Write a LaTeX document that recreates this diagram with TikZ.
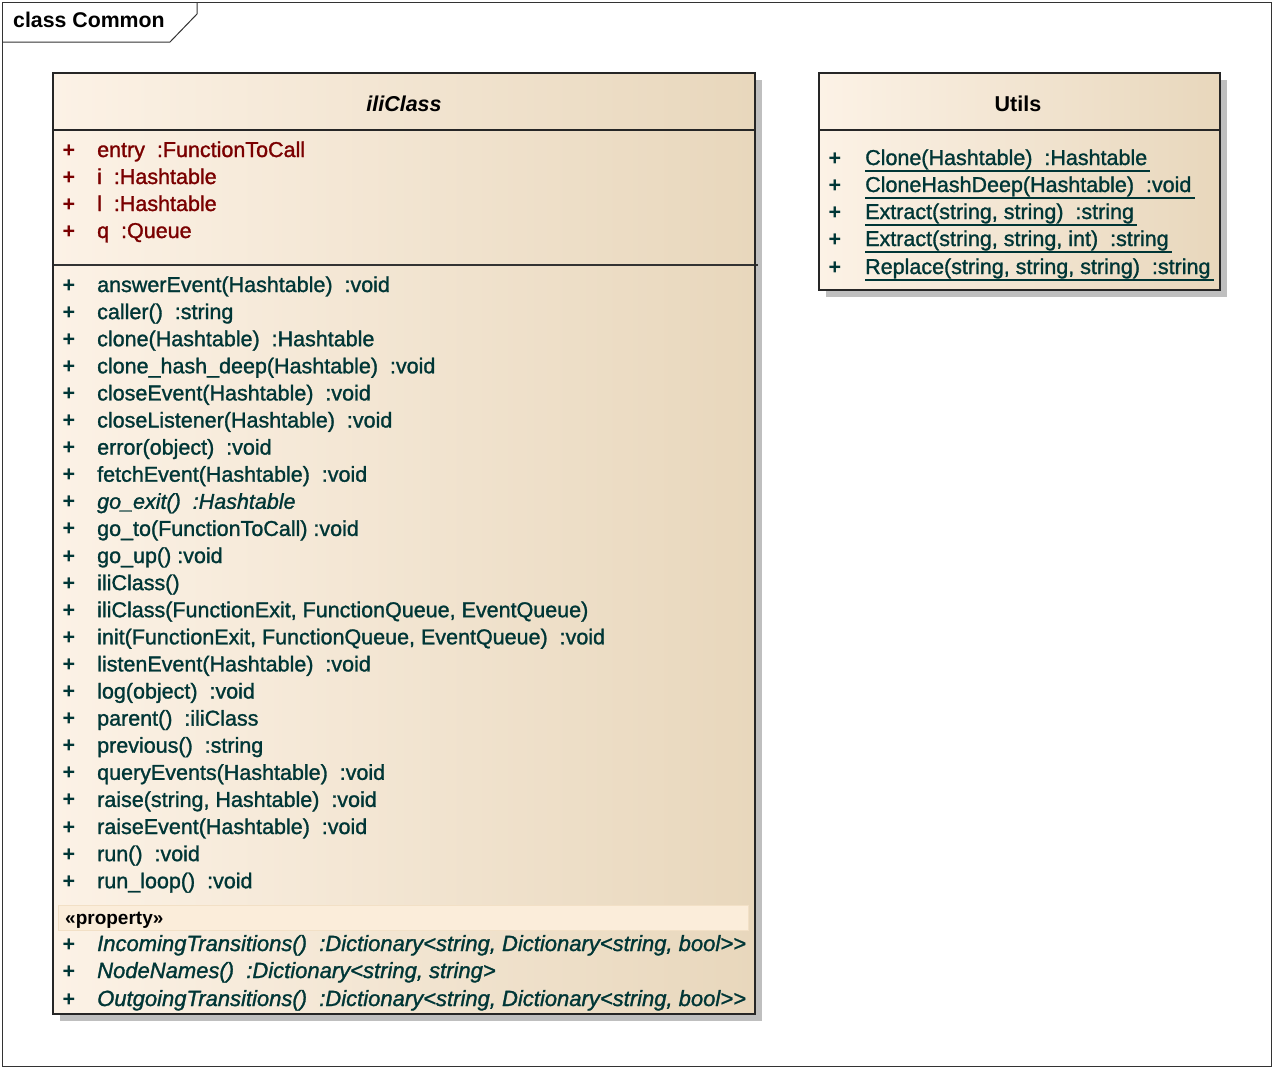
\documentclass[tikz,border=0pt]{standalone}
\usepackage{fontspec}
\setmainfont{Liberation Sans}
\newfontfamily\heavy[FakeBold=1.3]{Liberation Sans}
\begin{document}
\begin{tikzpicture}[x=1pt,y=-1pt,
  txt/.style={inner sep=0pt,anchor=base west,font=\heavy\fontsize{21.5}{25}\selectfont,text depth=6pt},
  attr/.style={txt,text=attrcol},
  meth/.style={txt,text=methcol},
  plus/.style={inner sep=0pt,anchor=base,font=\fontsize{21.5}{25}\selectfont\bfseries},
  boxline/.style={line width=1.5pt,draw=black!85},
  shadowc/.style={fill=black!25,draw=none}]
\definecolor{attrcol}{HTML}{7A0000}
\definecolor{methcol}{HTML}{003636}
\definecolor{gl}{HTML}{FCF2E6}
\definecolor{gr}{HTML}{E8D7BC}
\definecolor{band}{HTML}{FBEDDA}
\definecolor{bandb}{HTML}{F2E0C6}
\useasboundingbox (0,0) rectangle (1274,1069);
% frame
\draw[line width=1pt,black!80] (2,2) rectangle (1271,1066);
\draw[line width=1pt,black!80] (2,42) -- (170,42) -- (197,14) -- (197,2);
\node[inner sep=0pt,anchor=base west,font=\fontsize{21.3}{25}\selectfont\bfseries] (frametitle) at (13,27) {class Common};
% iliClass box
\fill[shadowc] (60,80) rectangle (762,1021);
\shade[left color=gl,right color=gr] (53,73) rectangle (755,1014);
\node[inner sep=0pt,anchor=base,font=\fontsize{21.5}{25}\selectfont\bfseries\itshape] (ilititle) at (404,111) {iliClass};
\draw[boxline] (53,130) -- (755,130);
\draw[line width=1.5pt,black!80] (53,265) -- (758,265);
% attributes
\foreach \t [count=\i] in {entry~ :FunctionToCall, i~ :Hashtable, l~ :Hashtable, q~ :Queue}{
  \node[plus,text=attrcol] (ap\i) at (69,{150+27*(\i-1)+7}) {+};
  \node[attr] (a\i) at (97,{150+27*(\i-1)+7}) {\t};
}
% methods
\foreach \t [count=\i] in {answerEvent(Hashtable)~ :void, caller()~ :string, clone(Hashtable)~ :Hashtable,
  clone\_hash\_deep(Hashtable)~ :void, closeEvent(Hashtable)~ :void, closeListener(Hashtable)~ :void,
  error(object)~ :void, fetchEvent(Hashtable)~ :void, {\itshape go\_exit()~ :Hashtable},
  go\_to(FunctionToCall) :void, go\_up() :void, iliClass(),
  {iliClass(FunctionExit, FunctionQueue, EventQueue)}, {init(FunctionExit, FunctionQueue, EventQueue)~ :void},
  listenEvent(Hashtable)~ :void, log(object)~ :void, parent()~ :iliClass, previous()~ :string,
  queryEvents(Hashtable)~ :void, {raise(string, Hashtable)~ :void}, raiseEvent(Hashtable)~ :void,
  run()~ :void, run\_loop()~ :void}{
  \node[plus,text=methcol] (mp\i) at (69,{285+27.1*(\i-1)+7}) {+};
  \node[meth] (m\i) at (97,{285+27.1*(\i-1)+7}) {\t};
}
% property band
\draw[fill=band,draw=bandb] (58,905) rectangle (748,930);
\node[inner sep=0pt,anchor=base west,font=\fontsize{19}{22}\selectfont\bfseries] (stereo) at (65,924) {«property»};
\foreach \t/\y [count=\i] in {{IncomingTransitions()~ :Dictionary<string, Dictionary<string, bool{>}{>}}/944,
  {NodeNames()~ :Dictionary<string, string>}/971,
  {OutgoingTransitions()~ :Dictionary<string, Dictionary<string, bool{>}{>}}/999}{
  \node[plus,text=methcol] (pp\i) at (69,\y+7) {+};
  \node[meth,font=\heavy\fontsize{22}{25}\selectfont\itshape] (pr\i) at (97,\y+7) {\t};
}
\draw[boxline] (53,73) rectangle (755,1014);
% Utils box
\fill[shadowc] (826,80) rectangle (1227,297);
\shade[left color=gl,right color=gr] (819,73) rectangle (1220,290);
\node[inner sep=0pt,anchor=base,font=\fontsize{21.5}{25}\selectfont\bfseries] (utitle) at (1018,111) {Utils};
\draw[boxline] (819,130) -- (1220,130);
\foreach \t/\y [count=\i] in {{Clone(Hashtable)~ :Hashtable}/158, {CloneHashDeep(Hashtable)~ :void}/185,
  {Extract(string, string)~ :string}/212, {Extract(string, string, int)~ :string}/239,
  {Replace(string, string, string)~ :string}/267}{
  \node[plus,text=methcol] (up\i) at (835,\y+7) {+};
  \node[meth] (u\i) at (865,\y+7) {\t};
  \draw[methcol,line width=1.5pt] (u\i.south west) -- ([xshift=3pt]u\i.south east);
}
\draw[boxline] (819,73) rectangle (1220,290);
\end{tikzpicture}
\end{document}
